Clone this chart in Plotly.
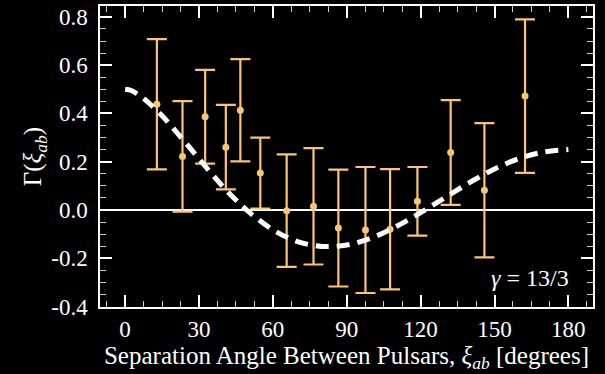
import plotly.graph_objects as go

# Measured cross-correlation points (angle in degrees, correlation, 1-sigma error)
angles = [12.9, 23.3, 32.5, 40.9, 46.8, 54.9, 65.6, 76.5, 86.6, 97.6, 107.6, 118.7, 132.2, 145.9, 162.4]
corr = [0.438, 0.222, 0.386, 0.260, 0.413, 0.153, -0.003, 0.015, -0.075, -0.083, -0.080, 0.036, 0.238, 0.082, 0.472]
err = [0.270, 0.229, 0.194, 0.175, 0.212, 0.147, 0.233, 0.241, 0.242, 0.261, 0.249, 0.142, 0.217, 0.278, 0.318]

# Dashed curve values
curve_x = [0, 2.5, 5, 7.5, 10, 15, 20, 25, 30, 35, 40, 45, 50, 60, 70, 80, 90, 100, 110, 120, 130, 140, 150, 160, 170, 180]
curve_y = [0.50, 0.495, 0.48, 0.462, 0.44, 0.39, 0.333, 0.273, 0.212, 0.152, 0.094, 0.041, -0.006, -0.082, -0.131, -0.151, -0.145, -0.116, -0.069, -0.011, 0.052, 0.114, 0.170, 0.213, 0.240, 0.250]

x_ticks = [0, 30, 60, 90, 120, 150, 180]
y_ticks = [-0.4, -0.2, 0.0, 0.2, 0.4, 0.6, 0.8]
y_ticklabels = ["-0.4", "-0.2", "0.0", "0.2", "0.4", "0.6", "0.8"]

ORANGE = "#FBC56F"
FONT = "Liberation Serif, Times New Roman, DejaVu Serif, serif"

fig = go.Figure()

fig.add_trace(go.Scatter(
    x=angles, y=corr, mode="markers",
    marker=dict(color=ORANGE, size=7),
    error_y=dict(type="data", array=err, color=ORANGE, thickness=2.2, width=10),
    showlegend=False,
))

fig.add_trace(go.Scatter(
    x=curve_x, y=curve_y, mode="lines",
    line=dict(color="white", width=5, dash="13px,8px", shape="spline", smoothing=1.0),
    showlegend=False,
))

axis_common = dict(
    showline=True, linecolor="white", linewidth=2, mirror="allticks",
    ticks="inside", ticklen=12, tickwidth=1.6, tickcolor="white",
    showgrid=False,
    tickfont=dict(family=FONT, size=23, color="white"),
)

fig.update_xaxes(
    range=[-10.2, 190], tickvals=x_ticks,
    minor=dict(ticks="inside", ticklen=6, tickwidth=1.4, tickcolor="#cccccc", dtick=7.5, tick0=0, showgrid=False),
    title=dict(text="Separation Angle Between Pulsars, <i>ξ<sub>ab</sub></i> [degrees]",
               font=dict(family=FONT, size=25, color="white"), standoff=6),
    zeroline=False,
    **axis_common,
)
fig.update_yaxes(
    range=[-0.402, 0.845], tickvals=y_ticks,
    ticktext=[lab + "&nbsp;" for lab in y_ticklabels],
    minor=dict(ticks="inside", ticklen=6, tickwidth=1.4, tickcolor="#cccccc", dtick=0.05, tick0=0, showgrid=False),
    title=dict(text="Γ(<i>ξ<sub>ab</sub></i>)", font=dict(family=FONT, size=25, color="white"), standoff=2),
    zeroline=True, zerolinecolor="white", zerolinewidth=1.6,
    **axis_common,
)

fig.add_annotation(
    x=0.955, y=0.095, xref="paper", yref="paper", xanchor="right", yanchor="middle",
    text="<i>γ</i> = 13/3", showarrow=False,
    font=dict(family=FONT, size=24, color="white"),
)

fig.update_layout(
    width=605, height=374,
    margin=dict(l=100, r=12, t=4, b=67),
    paper_bgcolor="black", plot_bgcolor="black",
    font=dict(family=FONT),
)

fig.write_html("out.html")
